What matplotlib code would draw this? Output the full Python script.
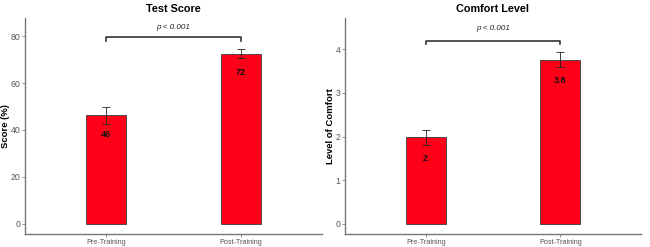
import matplotlib
matplotlib.use("Agg")
import matplotlib.pyplot as plt

plt.rcParams['font.family'] = ['Liberation Sans', 'DejaVu Sans']

categories = ["Pre-Training", "Post-Training"]
score_means = [46.2, 72.4]
score_errs = [3.8, 1.9]
score_labels = ["46", "72"]
comfort_means = [1.98, 3.76]
comfort_errs = [0.18, 0.18]
comfort_labels = ["2", "3.8"]
p_text = "p < 0.001"

panels = [
    dict(title="Test Score", ylabel="Score (%)", means=score_means, errs=score_errs,
         labels=score_labels, ylim=(-4.3, 87.7), yticks=[0, 20, 40, 60, 80],
         lab_off=8.0, br_y=79.7, br_tip=2.0, p_y=83.7,
         pos=[25/650, 1-234/247, 297/650, 216/247]),
    dict(title="Comfort Level", ylabel="Level of Comfort", means=comfort_means, errs=comfort_errs,
         labels=comfort_labels, ylim=(-0.229, 4.71), yticks=[0, 1, 2, 3, 4],
         lab_off=0.49, br_y=4.19, br_tip=0.08, p_y=4.48,
         pos=[345/650, 1-234/247, 296/650, 216/247]),
]

fig = plt.figure(figsize=(6.5, 2.47), dpi=100)
x = [1, 2]
for p in panels:
    ax = fig.add_axes(p["pos"])
    ax.bar(x, p["means"], width=0.3, color="#FF0019", edgecolor="#3a3a3a", linewidth=0.6, zorder=2)
    ax.errorbar(x, p["means"], yerr=p["errs"], fmt="none", ecolor="#222222",
                elinewidth=0.6, capsize=3, capthick=0.6, zorder=3)
    for xi, m, lab in zip(x, p["means"], p["labels"]):
        ax.text(xi, m - p["lab_off"], lab, ha="center", va="center",
                fontsize=6.5, fontweight="bold", color="#111111", zorder=4)
    ax.plot([1, 1, 2, 2], [p["br_y"] - p["br_tip"], p["br_y"], p["br_y"], p["br_y"] - p["br_tip"]],
            color="#333333", linewidth=1.2)
    ax.text(1.5, p["p_y"], p_text, ha="center", va="center", fontsize=5.8, style="italic", color="#222222")
    ax.set_xlim(0.4, 2.6)
    ax.set_ylim(*p["ylim"])
    ax.set_yticks(p["yticks"])
    ax.set_xticks(x)
    ax.set_xticklabels(categories)
    ax.tick_params(axis="both", colors="#666666", labelcolor="#555555", length=2, width=0.5, pad=1.2)
    ax.tick_params(axis="y", labelsize=6.3)
    ax.tick_params(axis="x", labelsize=5.2, pad=1.5)
    for side in ["top", "right"]:
        ax.spines[side].set_visible(False)
    for side in ["left", "bottom"]:
        ax.spines[side].set_color("#777777")
        ax.spines[side].set_linewidth(1.0)
    ax.set_ylabel(p["ylabel"], fontsize=6.8, fontweight="bold", labelpad=0.5)
    ax.set_title(p["title"], fontsize=7.8, fontweight="bold", pad=4)

fig.savefig("out.png", dpi=100)
